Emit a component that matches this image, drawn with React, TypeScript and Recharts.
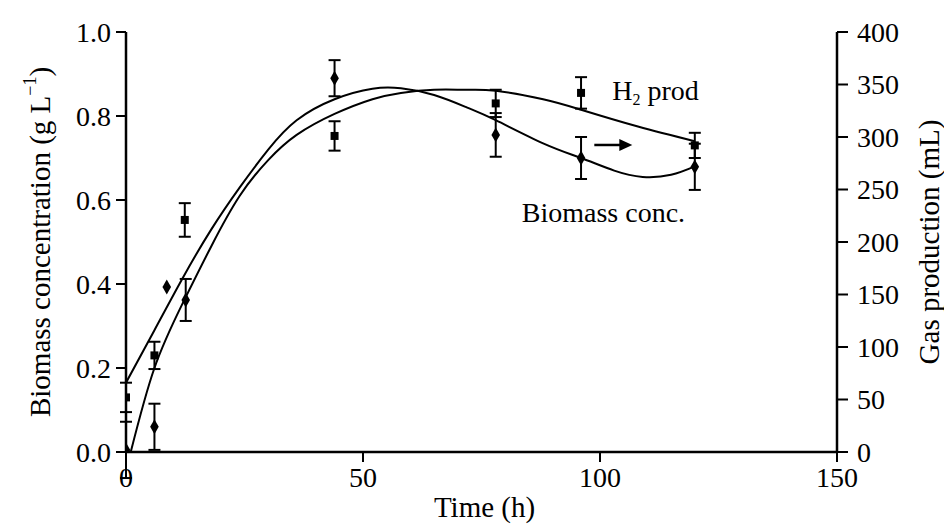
import {
  ComposedChart,
  ErrorBar,
  Line,
  ReferenceDot,
  Scatter,
  XAxis,
  YAxis,
} from 'recharts';

const FONT = '"Liberation Serif", "Times New Roman", serif';

// measured points, H2 production (mL, right axis)
const h2Points = [
  { t: 0, v: 52, err: 14 },
  { t: 6, v: 92, err: 13 },
  { t: 12.4, v: 221, err: 16 },
  { t: 44, v: 301, err: 14 },
  { t: 78, v: 332, err: 13 },
  { t: 96, v: 342, err: 15 },
  { t: 120, v: 292, err: 12 },
];

// measured points, biomass (g/L, left axis)
const biomassPoints = [
  { t: 0, v: 0.005, err: 0.067 },
  { t: 6, v: 0.06, err: 0.055 },
  { t: 8.6, v: 0.393, err: 0 },
  { t: 12.6, v: 0.362, err: 0.05 },
  { t: 44, v: 0.89, err: 0.043 },
  { t: 78, v: 0.755, err: 0.052 },
  { t: 96, v: 0.7, err: 0.05 },
  { t: 120, v: 0.679, err: 0.055 },
];

// fitted curves
const h2Fit = [
  { t: 1, v: 0 },
  { t: 6, v: 80 },
  { t: 12, v: 142 },
  { t: 18, v: 196 },
  { t: 24, v: 244 },
  { t: 30, v: 278 },
  { t: 36, v: 302 },
  { t: 44, v: 322 },
  { t: 52, v: 336 },
  { t: 58, v: 342 },
  { t: 65, v: 345 },
  { t: 72, v: 345 },
  { t: 78, v: 344 },
  { t: 88, v: 336 },
  { t: 96, v: 326 },
  { t: 108, v: 310 },
  { t: 120, v: 296 },
];

const biomassFit = [
  { t: 0, v: 0.165 },
  { t: 6, v: 0.29 },
  { t: 12, v: 0.415 },
  { t: 18, v: 0.53 },
  { t: 24, v: 0.63 },
  { t: 30, v: 0.72 },
  { t: 36, v: 0.79 },
  { t: 44, v: 0.84 },
  { t: 52, v: 0.865 },
  { t: 58, v: 0.866 },
  { t: 65, v: 0.85 },
  { t: 72, v: 0.82 },
  { t: 78, v: 0.79 },
  { t: 88, v: 0.735 },
  { t: 96, v: 0.7 },
  { t: 103, v: 0.67 },
  { t: 109, v: 0.655 },
  { t: 115, v: 0.66 },
  { t: 120, v: 0.68 },
];

const timeTicks = [0, 50, 100, 150];
const biomassTicks = [0, 0.2, 0.4, 0.6, 0.8, 1.0];
const gasTicks = [0, 50, 100, 150, 200, 250, 300, 350, 400];

// annotation anchors, in (time, g/L)
const h2Note = { t: 102.6, v: 0.838 };
const arrowNote = { t: 98.8, v: 0.731 };
const biomassNote = { t: 83.5, v: 0.548 };

const tickStyle = { fill: '#000', fontSize: 28, fontFamily: FONT };

function LeftTitle({ viewBox }: any) {
  const cx = viewBox.x + 40;
  const cy = viewBox.y + viewBox.height / 2;
  return (
    <text
      x={cx}
      y={cy}
      transform={`rotate(-90, ${cx}, ${cy})`}
      textAnchor="middle"
      dominantBaseline="central"
      fontFamily={FONT}
      fontSize={29}
      fill="#000"
    >
      Biomass concentration (g L
      <tspan dy={-10} fontSize={18}>−1</tspan>
      <tspan dy={10}>)</tspan>
    </text>
  );
}

function RightTitle({ viewBox }: any) {
  const cx = viewBox.x + 92;
  const cy = viewBox.y + viewBox.height / 2;
  return (
    <text
      x={cx}
      y={cy}
      transform={`rotate(-90, ${cx}, ${cy})`}
      textAnchor="middle"
      dominantBaseline="central"
      fontFamily={FONT}
      fontSize={29}
      fill="#000"
    >
      Gas production (mL)
    </text>
  );
}

function BottomTitle({ viewBox }: any) {
  return (
    <text
      x={viewBox.x + viewBox.width / 2 + 3}
      y={517}
      textAnchor="middle"
      fontFamily={FONT}
      fontSize={29}
      fill="#000"
    >
      Time (h)
    </text>
  );
}

export default function App() {
  return (
    <div style={{ position: 'absolute', left: 0, top: 0, background: '#fff' }}>
      <ComposedChart width={944} height={524} margin={{ top: 32, right: 0, bottom: 0, left: 0 }}>
        <XAxis
          type="number"
          dataKey="t"
          domain={[0, 150]}
          allowDataOverflow
          ticks={timeTicks}
          height={72}
          tickSize={10}
          tickMargin={5}
          tick={tickStyle}
          axisLine={{ stroke: '#000', strokeWidth: 2.5 }}
          tickLine={{ stroke: '#000', strokeWidth: 2 }}
          label={<BottomTitle />}
        />
        <YAxis
          yAxisId="left"
          type="number"
          dataKey="v"
          domain={[0, 1]}
          allowDataOverflow
          ticks={biomassTicks}
          tickFormatter={(v: number) => v.toFixed(1)}
          width={126}
          tickSize={10}
          tickMargin={5}
          tick={tickStyle}
          axisLine={{ stroke: '#000', strokeWidth: 2.5 }}
          tickLine={{ stroke: '#000', strokeWidth: 2 }}
          label={<LeftTitle />}
        />
        <YAxis
          yAxisId="right"
          orientation="right"
          type="number"
          dataKey="v"
          domain={[0, 400]}
          allowDataOverflow
          ticks={gasTicks}
          width={107}
          tickSize={11}
          tickMargin={9}
          tick={{ ...tickStyle, textAnchor: 'start' }}
          axisLine={{ stroke: '#000', strokeWidth: 2.5 }}
          tickLine={{ stroke: '#000', strokeWidth: 2 }}
          label={<RightTitle />}
        />

        <Line
          yAxisId="left"
          data={biomassFit}
          dataKey="v"
          type="natural"
          stroke="#000"
          strokeWidth={2}
          dot={false}
          activeDot={false}
          isAnimationActive={false}
        />
        <Line
          yAxisId="right"
          data={h2Fit}
          dataKey="v"
          type="natural"
          stroke="#000"
          strokeWidth={2}
          dot={false}
          activeDot={false}
          isAnimationActive={false}
        />

        <Scatter
          yAxisId="right"
          data={h2Points}
          dataKey="v"
          shape="square"
          size={80}
          fill="#000"
          isAnimationActive={false}
        >
          <ErrorBar dataKey="err" direction="y" width={6} stroke="#000" strokeWidth={2} />
        </Scatter>
        <Scatter
          yAxisId="left"
          data={biomassPoints}
          dataKey="v"
          shape="diamond"
          fill="#000"
          isAnimationActive={false}
        >
          <ErrorBar dataKey="err" direction="y" width={6} stroke="#000" strokeWidth={2} />
        </Scatter>

        <ReferenceDot
          yAxisId="left"
          x={h2Note.t}
          y={h2Note.v}
          r={0}
          shape={(p: any) => (
            <text x={p.cx} y={p.cy} fontFamily={FONT} fontSize={28} fill="#000">
              H
              <tspan dy={5} fontSize={16}>2</tspan>
              <tspan dy={-5}> prod</tspan>
            </text>
          )}
        />
        <ReferenceDot
          yAxisId="left"
          x={arrowNote.t}
          y={arrowNote.v}
          r={0}
          shape={(p: any) => (
            <g>
              <line x1={p.cx} y1={p.cy} x2={p.cx + 28} y2={p.cy} stroke="#000" strokeWidth={2.5} />
              <polygon
                points={`${p.cx + 25},${p.cy - 6} ${p.cx + 38},${p.cy} ${p.cx + 25},${p.cy + 6}`}
                fill="#000"
              />
            </g>
          )}
        />
        <ReferenceDot
          yAxisId="left"
          x={biomassNote.t}
          y={biomassNote.v}
          r={0}
          shape={(p: any) => (
            <text x={p.cx} y={p.cy} fontFamily={FONT} fontSize={28} fill="#000">
              Biomass conc.
            </text>
          )}
        />
      </ComposedChart>
    </div>
  );
}
